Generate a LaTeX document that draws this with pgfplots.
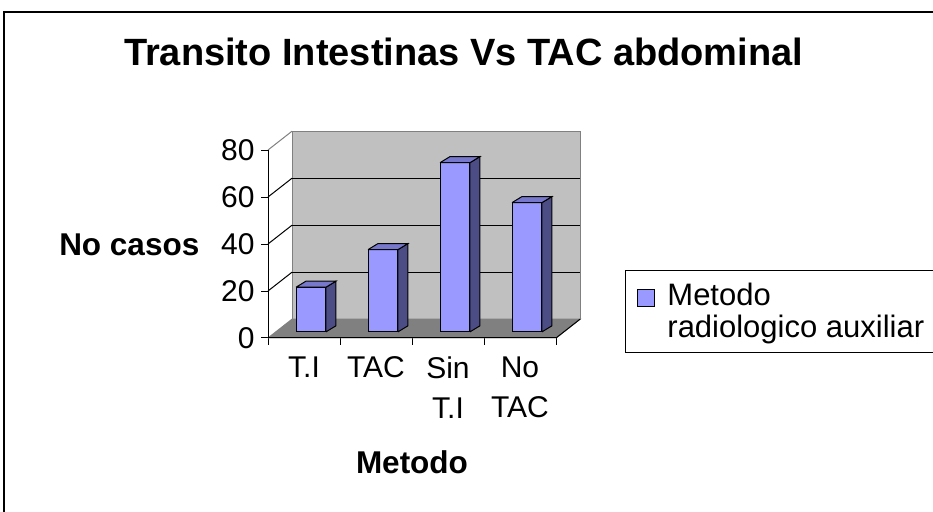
\documentclass[border=0pt]{standalone}
\usepackage{fontspec}
\setmainfont{Liberation Sans}
\usepackage{pgfplots}
\usepackage{pgfplotstable}
\pgfplotsset{compat=1.18}
\definecolor{barfront}{HTML}{9999FF}
\definecolor{barside}{HTML}{4D4D85}
\definecolor{bartop}{HTML}{7777CC}
\definecolor{wallcol}{HTML}{C0C0C0}
\definecolor{floorcol}{HTML}{808080}

\pgfplotstableread{
x v
0 19
1 35
2 72
3 55
}\datatable

\pgfplotstableread{
a b
0 0
1 0
1 1
0 1
0 0
}\unitsq

\begin{document}
\begin{tikzpicture}
\useasboundingbox (0pt,0pt) rectangle (933pt,511pt);
\draw[line width=1.5pt] (4pt,-20pt) rectangle (950pt,499pt);
\begin{axis}[
  at={(268pt,173pt)}, anchor=south west,
  scale only axis, width=312pt, height=206.8pt,
  xmin=-0.5, xmax=3.8333, ymin=0, ymax=88,
  enlargelimits=false, clip=false,
  axis x line*=bottom, axis y line*=left,
  axis line style={draw=none},
  tick align=outside, major tick length=7pt,
  tick style={black, line width=1pt},
  /pgf/number format/assume math mode=true,
  tick label style={font=\fontsize{30}{40}\selectfont},
  yticklabel style={xshift=-3pt},
  ytick={0,20,...,80},
  xtick={-0.5,0.5,1.5,2.5,3.5}, xticklabels={},
  extra x ticks={0,1,2,3},
  extra x tick labels={T.I,TAC,Sin\\T.I,No\\TAC},
  extra x tick style={major tick length=0pt, tick label style={align=center, yshift=-15pt}},
  title={Transito Intestinas Vs TAC abdominal},
  title style={at={(axis description cs:0.627,1.291)}, anchor=base, font=\bfseries\fontsize{38}{44}\selectfont},
  xlabel={Metodo},
  xlabel style={at={(axis description cs:0.4615,-0.653)}, anchor=base, font=\bfseries\fontsize{31.5}{36}\selectfont},
  ylabel={No casos},
  every axis y label/.style={at={(axis description cs:-0.4446,0.401)}, anchor=base, font=\bfseries\fontsize{31.5}{36}\selectfont},
  legend style={at={(axis description cs:1.144,0.329)}, anchor=north west, draw=black, line width=1pt,
    inner xsep=12pt, inner ysep=11pt, font=\fontsize{31}{32}\selectfont, cells={align=left},
    /tikz/every odd column/.append style={column sep=10pt}},
]
% back wall
\addplot[fill=wallcol, draw=floorcol, line width=1pt, forget plot] coordinates {(-0.1667,8) (3.8333,8) (3.8333,88) (-0.1667,88) (-0.1667,8)};
% back wall gridlines
\addplot[black, line width=1pt, forget plot] coordinates {(-0.1667,28) (3.8333,28)};
\addplot[black, line width=1pt, forget plot] coordinates {(-0.1667,48) (3.8333,48)};
\addplot[black, line width=1pt, forget plot] coordinates {(-0.1667,68) (3.8333,68)};
% side wall gridlines
\addplot[black, line width=1pt, forget plot] coordinates {(-0.5,20) (-0.1667,28)};
\addplot[black, line width=1pt, forget plot] coordinates {(-0.5,40) (-0.1667,48)};
\addplot[black, line width=1pt, forget plot] coordinates {(-0.5,60) (-0.1667,68)};
\addplot[floorcol, line width=1pt, forget plot] coordinates {(-0.5,80) (-0.1667,88)};
% floor
\addplot[fill=floorcol, draw=floorcol, line width=1pt, forget plot] coordinates {(-0.5,0) (3.5,0) (3.8333,8) (-0.1667,8) (-0.5,0)};
\addplot[black, line width=1pt, forget plot] coordinates {(3.5,0) (3.8333,8)};
% bars
\pgfplotsinvokeforeach{0,1,2,3}{
  \pgfplotstablegetelem{#1}{v}\of\datatable
  \let\val\pgfplotsretval
  \addplot[fill=barfront, draw=black, line width=1pt, forget plot]
    table[x expr={#1-0.111+\thisrow{a}*0.416}, y expr={2.6+\thisrow{b}*\val}]{\unitsq};
  \addplot[fill=barside, draw=black, line width=1pt, forget plot]
    table[x expr={#1+0.305+\thisrow{a}*0.139}, y expr={2.6+\thisrow{a}*2.6+\thisrow{b}*\val}]{\unitsq};
  \addplot[fill=bartop, draw=black, line width=1pt, forget plot]
    table[x expr={#1-0.111+\thisrow{a}*0.416+\thisrow{b}*0.139}, y expr={2.6+\val+\thisrow{b}*2.6}]{\unitsq};
}
% front axis lines
\addplot[black, line width=1pt, forget plot] coordinates {(-0.5,0) (-0.5,80)};
\addplot[black, line width=1pt, forget plot] coordinates {(-0.5,0) (3.5,0)};
\addlegendimage{legend image code/.code={\draw[fill=barfront,draw=black,line width=1pt] (0pt,5pt) rectangle (17pt,22pt);}}
\addlegendentry{Metodo\\radiologico auxiliar}
\end{axis}
\end{tikzpicture}
\end{document}
